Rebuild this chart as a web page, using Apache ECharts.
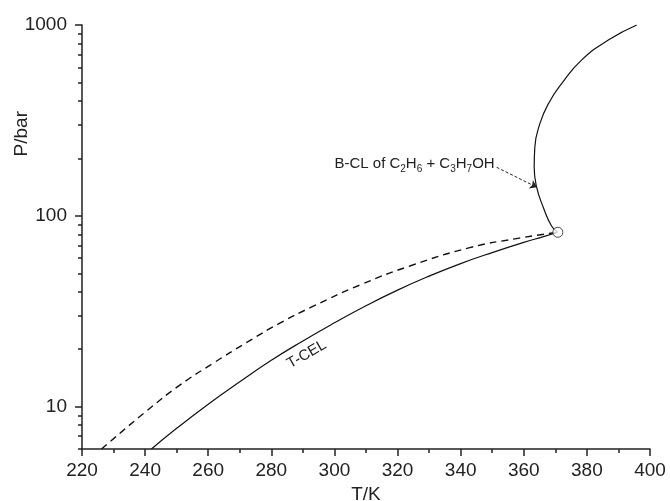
<!DOCTYPE html>
<html>
<head>
<meta charset="utf-8">
<script src="https://cdn.jsdelivr.net/npm/echarts@6/dist/echarts.min.js"></script>
<style>
  html, body { margin: 0; padding: 0; background: #fff; }
  #chart { width: 670px; height: 501px; }
</style>
</head>
<body>
<div id="chart"></div>
<script>
// Three-phase critical endpoint line (T-CEL), its dashed companion, and the
// binary critical locus (B-CL) of ethane + 1-propanol, pressures on a log axis.
var tcel = [[242, 6], [250, 7.7], [260, 10.3], [270, 13.5], [280, 17.5], [290, 22.1],
            [300, 27.5], [310, 33.8], [320, 40.8], [330, 48.3], [340, 56.2],
            [350, 64.2], [360, 72.6], [366, 77.6], [370.8, 82]];
var dashedLine = [[226.2, 6], [240.5, 9.5], [251.1, 13.0], [261.6, 16.9], [272.2, 21.7],
                  [282.7, 27.4], [293.3, 33.6], [308.1, 43.4], [323.9, 54.6],
                  [342.9, 68.1], [357.7, 76.0], [370.8, 82]];
var bcl = [[370.8, 82], [368.8, 88.5], [366.2, 110.6], [364.1, 141], [363.3, 179.6],
           [363.5, 229], [365.1, 304], [367.8, 387], [372.0, 493], [378.3, 655],
           [386.8, 834], [395.8, 1000]];
var endpoint = [[370.8, 82]];

var xTicks = { min: 220, max: 400, step: 20 };
var yMajor = [10, 100, 1000];
var yMinor = [6, 7, 8, 9, 20, 30, 40, 50, 60, 70, 80, 90,
              200, 300, 400, 500, 600, 700, 800, 900];

// annotation anchors (data space)
var bclArrowFrom = [351.4, 179.6];
var bclArrowTo = [364.2, 141];
var tcelLabelAt = [291.2, 18.8];

var ink = '#222';
var font = 'Liberation Sans, Arial, sans-serif';

var chart = echarts.init(document.getElementById('chart'), null, { renderer: 'canvas' });

chart.setOption({
  animation: false,
  backgroundColor: '#fff',
  grid: { left: 82, right: 20, top: 25, bottom: 52, containLabel: false, outerBoundsMode: 'none' },
  xAxis: {
    type: 'value',
    min: xTicks.min, max: xTicks.max, interval: xTicks.step,
    name: 'T/K', nameLocation: 'middle', nameGap: 34,
    nameTextStyle: { fontFamily: font, fontSize: 19, color: ink },
    axisLine: { show: true, onZero: false, lineStyle: { color: ink, width: 1.5 } },
    axisTick: { show: true, inside: false, length: 7, lineStyle: { color: ink, width: 1.5 } },
    minorTick: { show: true, splitNumber: 2, length: 4, lineStyle: { color: ink, width: 1.5 } },
    axisLabel: { fontFamily: font, fontSize: 19, color: ink, margin: 12 },
    splitLine: { show: false }
  },
  yAxis: [{
    type: 'log', logBase: 10, min: 6, max: 1000,
    axisLine: { show: true, onZero: false, lineStyle: { color: ink, width: 1.5 } },
    axisTick: { show: true, inside: false, length: 7, customValues: yMajor,
                lineStyle: { color: ink, width: 1.5 } },
    axisLabel: { fontFamily: font, fontSize: 19, color: ink, margin: 15, customValues: yMajor,
                 formatter: function (v) { return String(Math.round(v)); } },
    splitLine: { show: false }
  }, {
    type: 'log', logBase: 10, min: 6, max: 1000, position: 'left',
    axisLine: { show: false },
    axisTick: { show: true, inside: false, length: 4, customValues: yMinor,
                lineStyle: { color: ink, width: 1.5 } },
    axisLabel: { show: false },
    splitLine: { show: false }
  }],
  graphic: [{
    type: 'text', left: 12, top: 111, rotation: Math.PI / 2,
    style: { text: 'P/bar', font: '19px ' + font, fill: ink }
  }],
  series: [{
    name: 'T-CEL', type: 'line', data: tcel, smooth: 0.5, showSymbol: false,
    lineStyle: { color: '#111', width: 1.2, type: 'solid' },
    markPoint: {
      symbol: 'circle', symbolSize: 0, silent: true,
      data: [{ coord: tcelLabelAt }],
      label: { show: true, position: 'inside', formatter: 'T-CEL', rotate: 30,
               fontFamily: font, fontSize: 15, color: ink }
    }
  }, {
    name: 'dashed', type: 'line', data: dashedLine, smooth: 0.5, showSymbol: false,
    lineStyle: { color: '#111', width: 1.4, type: [7, 5] }
  }, {
    name: 'B-CL', type: 'line', data: bcl, smooth: 0.5, showSymbol: false,
    lineStyle: { color: '#111', width: 1.2 },
    markLine: {
      silent: true, symbol: ['none', 'arrow'], symbolSize: 7,
      lineStyle: { color: ink, width: 1, type: [3, 2] },
      label: { show: false },
      data: [[{ coord: bclArrowFrom }, { coord: bclArrowTo }]]
    },
    markPoint: {
      symbol: 'circle', symbolSize: 0, silent: true,
      data: [{ coord: bclArrowFrom }],
      label: {
        show: true, position: 'left', distance: 2, offset: [0, -3],
        formatter: 'B-CL of C{s|2}H{s|6} + C{s|3}H{s|7}OH',
        fontFamily: font, fontSize: 15, color: ink, lineHeight: 20,
        rich: {
          s: { fontFamily: font, fontSize: 10, color: ink, verticalAlign: 'bottom', lineHeight: 20 }
        }
      }
    }
  }, {
    name: 'endpoint', type: 'scatter', data: endpoint, symbol: 'circle', symbolSize: 10,
    itemStyle: { color: '#fff', borderColor: ink, borderWidth: 1 }, z: 5
  }]
});
</script>
</body>
</html>
